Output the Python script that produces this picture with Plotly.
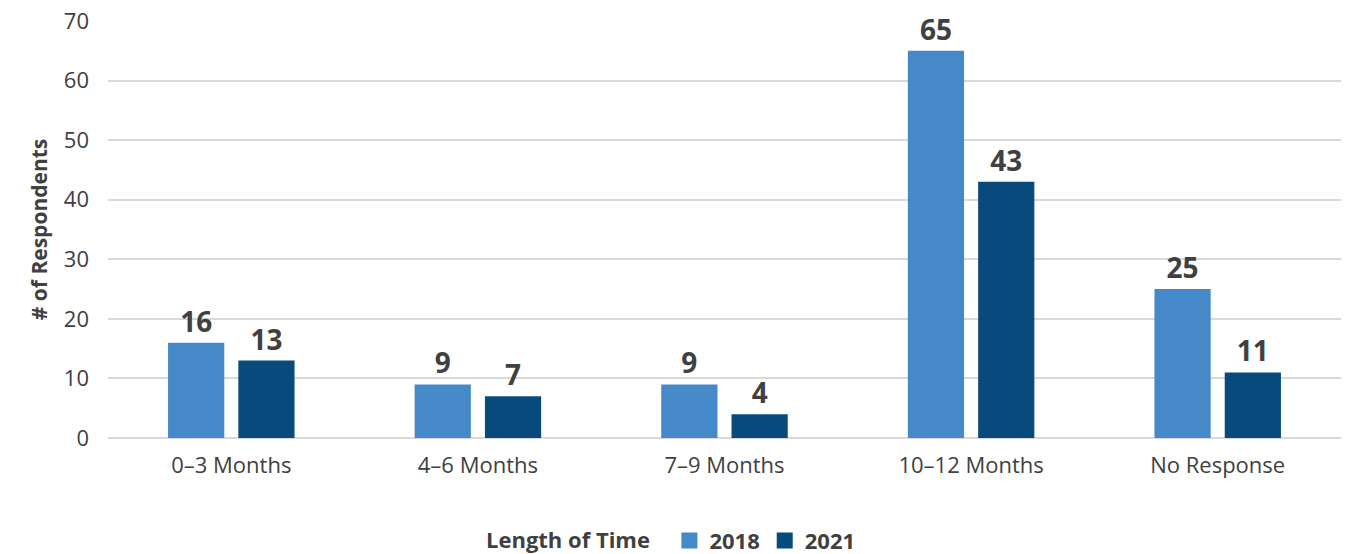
import plotly.graph_objects as go

categories = ["0–3 Months", "4–6 Months", "7–9 Months", "10–12 Months", "No Response"]
values_2018 = [16, 9, 9, 65, 25]
values_2021 = [13, 7, 4, 43, 11]
series_names = ["2018", "2021"]
y_ticks = [0, 10, 20, 30, 40, 50, 60, 70]

FONT = "Open Sans, Noto Sans, sans-serif"
TXT = "#404040"
colors = ["#4589c8", "#084a7c"]

fig = go.Figure()
for name, vals, col in zip(series_names, [values_2018, values_2021], colors):
    fig.add_trace(go.Bar(
        x=categories, y=vals, name=name, showlegend=False,
        marker=dict(color=col, line=dict(width=0)),
        text=[str(v) for v in vals], textposition="outside",
        textfont=dict(family=FONT, size=28, color=TXT, weight="bold"),
        cliponaxis=False,
    ))
# legend entries with larger square swatches
for name, col in zip(series_names, colors):
    fig.add_trace(go.Scatter(
        x=[None], y=[None], mode="markers", name=name,
        marker=dict(symbol="square", size=19, color=col),
    ))

fig.update_layout(
    width=1345, height=554,
    margin=dict(l=108, r=4, t=21, b=116, autoexpand=False),
    paper_bgcolor="white", plot_bgcolor="white",
    barmode="group", bargap=0.43, bargroupgap=0.2,
    font=dict(family=FONT, color=TXT, size=22),
    showlegend=True,
    legend=dict(
        orientation="h", x=0.5, xanchor="center", xref="container",
        y=0.024, yanchor="middle", yref="container",
        title=dict(text="<b>Length of Time</b>  ", font=dict(size=22, color=TXT)),
        font=dict(size=22, color=TXT, weight="bold"),
        itemwidth=30, traceorder="normal",
    ),
    xaxis=dict(
        tickfont=dict(size=22, color=TXT), showgrid=False,
        showline=False, ticks="", ticklabelstandoff=12,
    ),
    yaxis=dict(
        range=[0, 70], tickvals=y_ticks, tickfont=dict(size=22, color=TXT),
        showgrid=True, gridcolor="#d9d9d9", gridwidth=2,
        zeroline=True, zerolinecolor="#d9d9d9", zerolinewidth=2,
        ticks="", ticklabelstandoff=18,
        title=dict(text="<b># of Respondents</b>", font=dict(size=21, color=TXT), standoff=10),
    ),
)

fig.write_html("out.html", config={"displayModeBar": False},
               post_script="document.body.style.margin='0';")
